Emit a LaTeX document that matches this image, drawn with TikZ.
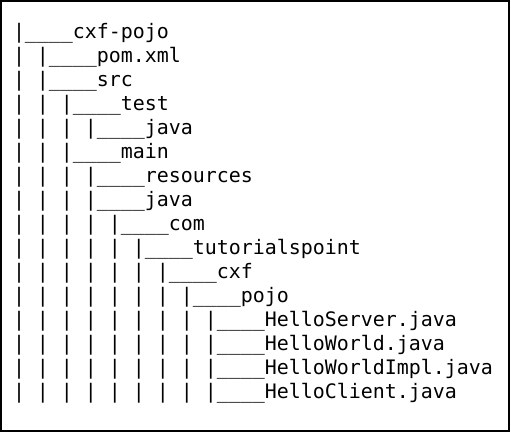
\documentclass[tikz,border=0pt]{standalone}
\usepackage{fontspec}
\setmonofont{DejaVu Sans Mono}
\usepackage{tikz}
\usetikzlibrary{positioning}

% one "| " for every level above the entry
\newcommand{\treeprefix}[1]{\ifnum#1>0\relax\foreach \k in {1,...,#1}{|~}\fi}

\tikzset{
  treerow/.style={anchor=base west, inner sep=0pt, outer sep=0pt,
    font=\ttfamily\fontsize{19.93}{24}\selectfont}
}

\begin{document}
\begin{tikzpicture}[x=1pt, y=1pt]
  \useasboundingbox (0,0) rectangle (511,-434);

  % Frame
  \draw[line width=1.6pt] (1,-1) rectangle (509,-431);

  % Tree rows: index / depth / entry
  \foreach \i/\d/\lbl in {0/0/cxf-pojo, 1/1/pom.xml, 2/1/src, 3/2/test,
      4/3/java, 5/2/main, 6/3/resources, 7/3/java, 8/4/com,
      9/5/tutorialspoint, 10/6/cxf, 11/7/pojo, 12/8/HelloServer.java,
      13/8/HelloWorld.java, 14/8/HelloWorldImpl.java, 15/8/HelloClient.java} {
    \node[treerow] (row\i) at (13,{-38.3-24.03*\i})
      {\treeprefix{\d}|\_\_\_\_\lbl};
  }
\end{tikzpicture}
\end{document}
